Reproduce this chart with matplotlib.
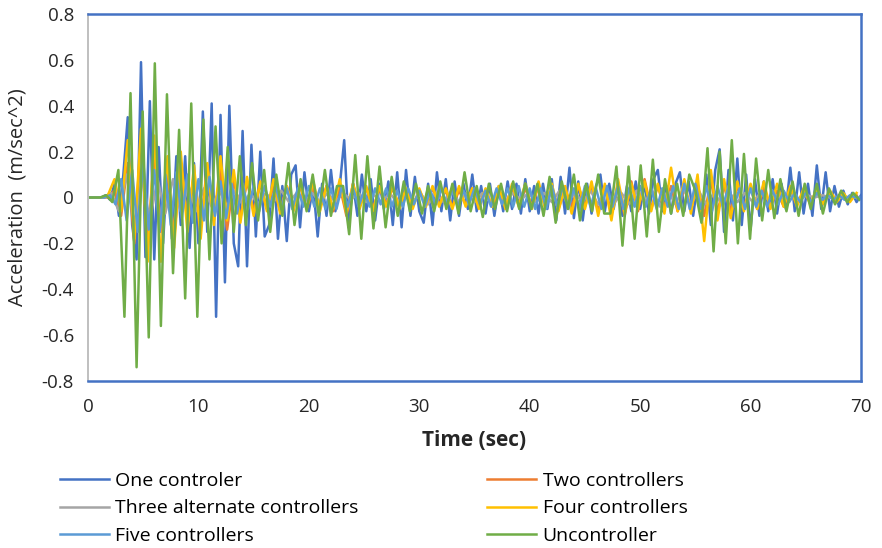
import numpy as np
import matplotlib
matplotlib.use("Agg")
import matplotlib.pyplot as plt

# --- data: read off the reference as successive peaks / troughs ----------
# each series is sampled on its own regular time step (sec)
step_one = 0.4
one_ctrl = [
    0, 0, 0, 0, 0.01, -0.01, 0.06, -0.08, 0.10, 0.35,
    -0.12, -0.27, 0.59, -0.26, 0.42, -0.27, 0.22, -0.20, 0.15, -0.18,
    0.18, -0.12, 0.18, -0.22, 0.15, -0.20, 0.375, -0.15, 0.41, -0.52,
    0.36, -0.37, 0.40, -0.20, -0.30, 0.29, -0.30, 0.23, -0.17, 0.20,
    -0.17, -0.12, 0.17, -0.18, 0.05, -0.19, 0.10, 0.14, -0.13, 0.11,
    -0.06, 0.05, -0.17, 0.06, -0.08, 0.12, -0.06, 0.05, 0.25, -0.13,
    0.06, -0.08, 0.10, -0.06, 0.08, -0.10, 0.06, -0.05, 0.07, -0.12,
    0.11, -0.13, 0.12, -0.08, 0.09, -0.06, -0.11, 0.06, -0.12, 0.11,
    -0.06, 0.08, -0.10, 0.07, -0.08, 0.06, -0.05, 0.10, -0.06, 0.05,
    -0.07, 0.06, -0.08, 0.05, -0.06, 0.07, -0.05, 0.06, -0.07, 0.08,
    -0.06, 0.05, -0.07, 0.06, -0.05, 0.08, -0.10, 0.09, -0.07, 0.13,
    -0.09, 0.07, -0.10, 0.06, -0.07, 0.05, 0.10, -0.06, 0.06, -0.05,
    0.06, -0.08, 0.05, -0.06, 0.07, -0.05, 0.06, -0.07, 0.08, 0.12,
    -0.06, 0.05, -0.07, 0.06, 0.11, -0.06, 0.07, -0.08, 0.06, -0.10,
    0.10, -0.12, 0.12, 0.21, -0.15, 0.12, -0.10, 0.17, -0.12, 0.10,
    -0.14, 0.08, -0.08, 0.07, -0.06, 0.08, -0.07, 0.06, -0.05, 0.13,
    -0.06, 0.11, -0.07, 0.06, -0.08, 0.14, -0.05, 0.11, -0.06, 0.05,
    -0.04, 0.03, -0.03, 0.02, -0.02, 0.01,
]

step_two = 0.6
two_ctrl = [
    0, 0, 0, 0, 0.03, -0.08, 0.15, -0.20, 0.27, -0.22,
    0.20, -0.15, 0.12, -0.17, 0.15, -0.10, 0.10, -0.12, 0.14, -0.10,
    0.12, -0.14, 0.08, -0.09, 0.07, -0.06, 0.06, -0.05, 0.05, -0.06,
    0.05, -0.04, 0.05, -0.05, 0.04, -0.04, 0.05, -0.06, 0.05, -0.08,
    0.06, -0.04, 0.04, -0.05, 0.04, -0.03, 0.04, -0.04, 0.03, -0.04,
    0.03, -0.03, 0.04, -0.03, 0.03, -0.04, 0.03, -0.03, 0.04, -0.03,
    0.03, -0.04, 0.03, -0.03, 0.04, -0.03, 0.04, -0.04, 0.05, -0.04,
    0.04, -0.05, 0.04, -0.04, 0.05, -0.04, 0.05, -0.06, 0.05, -0.07,
    0.06, -0.08, 0.07, -0.06, 0.08, -0.05, 0.05, -0.04, 0.05, -0.06,
    0.04, -0.05, 0.06, -0.08, 0.07, -0.06, 0.05, -0.06, 0.05, -0.04,
    0.04, -0.05, 0.04, -0.04, 0.03, -0.04, 0.03, -0.03, 0.03, -0.02,
    0.02, -0.02, 0.02, -0.01, 0.01, -0.01, 0.01,
]

step_three = 0.7
three_alt = [
    0, 0, 0, 0.02, -0.06, 0.10, -0.12, 0.09, -0.10, 0.08,
    -0.07, 0.08, -0.06, 0.05, -0.06, 0.04, -0.04, 0.03, -0.04, 0.03,
    -0.03, 0.02, -0.03, 0.02, -0.02, 0.03, -0.02, 0.02, -0.02, 0.02,
    -0.02, 0.02, -0.02, 0.02, -0.01, 0.02, -0.02, 0.01, -0.02, 0.02,
    -0.02, 0.02, -0.02, 0.02, -0.03, 0.02, -0.02, 0.03, -0.02, 0.02,
    -0.02, 0.02, -0.02, 0.02, -0.02, 0.02, -0.01, 0.02, -0.02, 0.02,
    -0.02, 0.03, -0.02, 0.02, -0.02, 0.03, -0.03, 0.02, -0.03, 0.02,
    -0.03, 0.03, -0.02, 0.03, -0.04, 0.03, -0.03, 0.04, -0.03, 0.03,
    -0.03, 0.02, -0.03, 0.02, -0.02, 0.02, -0.02, 0.02, -0.01, 0.01,
    -0.01, 0.01, -0.01, 0.01, 0.0, 0.01, 0.0, 0.0, 0.0, 0.0, 0.0,
]

step_four = 0.6
four_ctrl = [
    0, 0, 0, 0.01, 0.08, -0.06, 0.25, -0.18, 0.30, -0.28,
    0.27, -0.28, 0.18, -0.22, 0.20, -0.15, 0.14, -0.18, 0.15, -0.12,
    0.18, -0.10, 0.12, -0.11, 0.09, -0.08, 0.07, -0.06, 0.08, -0.07,
    0.05, -0.06, 0.06, -0.05, 0.07, -0.06, 0.05, -0.05, 0.08, -0.07,
    0.06, -0.05, 0.05, -0.06, 0.05, -0.04, 0.05, -0.05, 0.04, -0.05,
    0.04, -0.04, 0.05, -0.04, 0.04, -0.05, 0.05, -0.04, 0.04, -0.05,
    0.04, -0.04, 0.05, -0.05, 0.06, -0.04, 0.06, -0.05, 0.07, -0.05,
    0.06, -0.06, 0.05, -0.07, 0.06, -0.05, 0.07, -0.08, 0.06, -0.10,
    0.08, -0.07, 0.06, -0.05, 0.07, -0.06, 0.06, -0.07, 0.13, -0.06,
    0.08, -0.07, 0.10, -0.19, 0.12, -0.10, 0.08, -0.09, 0.07, -0.06,
    0.06, -0.05, 0.07, -0.05, 0.06, -0.04, 0.05, -0.04, 0.04, -0.03,
    0.04, -0.03, 0.03, -0.02, 0.02, -0.02, 0.02,
]

step_five = 0.5
five_ctrl = [
    0, 0, 0, 0, 0.01, -0.03, 0.08, -0.10, 0.12, -0.15,
    0.16, -0.14, 0.12, -0.15, 0.10, -0.12, 0.11, -0.09, 0.10, -0.11,
    0.08, -0.10, 0.09, -0.08, 0.07, -0.09, 0.06, -0.07, 0.06, -0.05,
    0.05, -0.06, 0.05, -0.04, 0.05, -0.05, 0.04, -0.05, 0.04, -0.04,
    0.05, -0.04, 0.04, -0.05, 0.04, -0.05, 0.05, -0.04, 0.04, -0.04,
    0.03, -0.04, 0.04, -0.03, 0.04, -0.04, 0.03, -0.04, 0.04, -0.03,
    0.03, -0.04, 0.03, -0.03, 0.04, -0.03, 0.03, -0.04, 0.03, -0.03,
    0.04, -0.03, 0.03, -0.04, 0.04, -0.03, 0.04, -0.04, 0.05, -0.04,
    0.04, -0.05, 0.04, -0.05, 0.05, -0.04, 0.05, -0.05, 0.04, -0.05,
    0.05, -0.04, 0.04, -0.05, 0.05, -0.04, 0.05, -0.05, 0.04, -0.04,
    0.05, -0.04, 0.04, -0.05, 0.04, -0.04, 0.05, -0.05, 0.06, -0.05,
    0.06, -0.05, 0.05, -0.06, 0.05, -0.04, 0.05, -0.04, 0.04, -0.05,
    0.04, -0.04, 0.03, -0.04, 0.03, -0.03, 0.03, -0.02, 0.02, -0.02,
    0.02, -0.02, 0.02, -0.01, 0.01, -0.01, 0.01, -0.01, 0.01, 0.0, 0.0,
]

step_unc = 0.55
uncontrolled = [
    0, 0, 0, 0.01, -0.02, 0.12, -0.52, 0.455, -0.74, 0.375,
    -0.61, 0.585, -0.56, 0.45, -0.33, 0.295, -0.44, 0.41, -0.52, 0.34,
    -0.27, 0.31, -0.20, 0.22, -0.15, 0.18, -0.12, 0.15, -0.10, 0.12,
    -0.15, 0.10, -0.08, 0.15, -0.12, 0.08, -0.06, 0.10, -0.08, 0.12,
    -0.08, 0.05, 0.05, -0.16, 0.185, -0.18, 0.18, -0.135, 0.135, -0.13,
    0.09, -0.08, 0.07, -0.06, 0.06, -0.07, 0.05, -0.06, 0.07, -0.05,
    0.06, -0.07, 0.11, -0.06, 0.05, -0.085, 0.06, -0.05, 0.06, -0.06,
    0.07, -0.05, 0.06, -0.05, 0.06, -0.08, 0.09, -0.11, 0.07, -0.05,
    0.10, -0.10, 0.06, -0.06, 0.10, -0.07, -0.07, 0.135, -0.21, 0.135,
    -0.18, 0.14, -0.17, 0.165, -0.15, 0.08, -0.07, 0.06, -0.08, 0.10,
    0.03, -0.11, 0.215, -0.235, 0.20, -0.20, 0.25, -0.20, 0.19, -0.18,
    0.17, -0.10, 0.12, -0.09, 0.08, -0.06, 0.07, -0.08, 0.06, -0.05,
    0.06, -0.07, 0.04, -0.03, 0.03, -0.02, 0.02, -0.01,
]

labels = ["One controler", "Two controllers", "Three alternate controllers",
          "Four controllers", "Five controllers", "Uncontroller"]
colors = ["#4472C4", "#ED7D31", "#A5A5A5", "#FFC000", "#5B9BD5", "#70AD47"]
series = [(step_one, one_ctrl), (step_two, two_ctrl), (step_three, three_alt),
          (step_four, four_ctrl), (step_five, five_ctrl), (step_unc, uncontrolled)]

x_ticks = [0, 10, 20, 30, 40, 50, 60, 70]
y_ticks = [-0.8, -0.6, -0.4, -0.2, 0, 0.2, 0.4, 0.6, 0.8]
y_tick_labels = ["-0.8", "-0.6", "-0.4", "-0.2", "0", "0.2", "0.4", "0.6", "0.8"]

# --- figure ---------------------------------------------------------------
plt.rcParams['font.family'] = ['Open Sans', 'DejaVu Sans']
fig = plt.figure(figsize=(8.82, 5.48), dpi=100)
ax = fig.add_axes([88 / 882, 1 - 381 / 548, (861 - 88) / 882, (381 - 14) / 548])

lines = []
for (dt, vals), c, lab in zip(series, colors, labels):
    t = np.arange(len(vals)) * dt
    ln, = ax.plot(t, vals, color=c, lw=1.8, label=lab)
    lines.append(ln)

ax.set_xlim(0, 70)
ax.set_ylim(-0.8, 0.8)
ax.set_xticks(x_ticks)
ax.set_yticks(y_ticks)
ax.set_yticklabels(y_tick_labels)
ax.tick_params(length=0, labelsize=13.5, colors="#262626")
ax.tick_params(axis="x", pad=12)
ax.tick_params(axis="y", pad=10)
for s in ("top", "bottom", "right"):
    ax.spines[s].set_color("#4472C4")
    ax.spines[s].set_linewidth(1.8)
ax.spines["left"].set_color("#BFBFBF")
ax.spines["left"].set_linewidth(1.4)

ax.set_xlabel("Time (sec)", fontsize=15, fontweight="bold", color="#262626", labelpad=10)
ax.set_ylabel("Acceleration  (m/sec^2)", fontsize=14.5, color="#262626", labelpad=10)

order = [0, 2, 4, 1, 3, 5]
fig.legend([lines[i] for i in order], [labels[i] for i in order],
           ncol=2, loc="upper left", bbox_to_anchor=(60 / 882, 1 - 472 / 548),
           frameon=False, fontsize=14, handlelength=2.5, handletextpad=0.35,
           columnspacing=6.6, labelspacing=0.48, borderpad=0, borderaxespad=0)

fig.savefig("out.png", dpi=100)
